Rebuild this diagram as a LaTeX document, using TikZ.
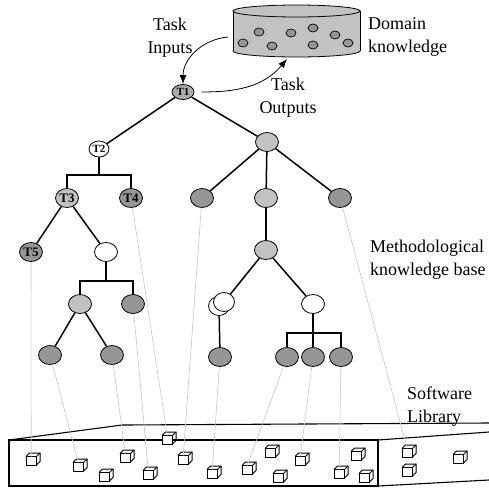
\documentclass[tikz,border=0pt]{standalone}
\usepackage{fontspec}
\setmainfont{Liberation Serif}
\usetikzlibrary{shapes.geometric,arrows.meta}
\definecolor{darknode}{gray}{0.59}
\definecolor{midnode}{gray}{0.68}
\definecolor{lightnode}{gray}{0.76}
\definecolor{leader}{gray}{0.78}
\begin{document}
\begin{tikzpicture}[x=1pt,y=-1pt,
  tnode/.style={ellipse, draw, line width=0.8pt, minimum width=23pt, minimum height=19pt, inner sep=0pt},
  dark/.style={tnode, fill=darknode},
  light/.style={tnode, fill=lightnode},
  blank/.style={tnode, fill=white},
  tlbl/.style={font=\fontsize{13}{13}\selectfont\bfseries, inner sep=0pt},
  edge/.style={line width=1.5pt},
  bracket/.style={line width=1.8pt},
  ref/.style={leader, line width=0.6pt},
  txt/.style={font=\fontsize{18}{23}\selectfont, inner sep=0pt},
  flow/.style={line width=0.8pt, -{Latex[length=9pt,width=7pt]}},
  libcube/.pic={
    \draw[line width=1pt, fill=white] (-7,-2.5) rectangle (3.5,6);
    \draw[line width=1pt] (-7,-2.5) -- (-3.5,-6) -- (7,-6) -- (7,2.5) -- (3.5,6);
    \draw[line width=1pt] (3.5,-2.5) -- (7,-6);
    \coordinate (-top) at (-1.75,-2.5);
  }]
\useasboundingbox (0,0) rectangle (489,488);

%domain knowledge store
\fill[lightnode] (233,11) rectangle (360,51);
\fill[lightnode] (296.5,51) ellipse[x radius=63.5, y radius=6];
\begin{scope}
\clip (230,51) rectangle (363,60);
\draw[line width=0.8pt] (296.5,51) ellipse[x radius=63.5, y radius=6];
\end{scope}
\draw[line width=0.8pt] (233,11) -- (233,51);
\draw[line width=0.8pt] (360,11) -- (360,51);
\draw[line width=0.8pt, fill=lightnode] (296.5,11) ellipse[x radius=63.5, y radius=6];
\draw[line width=0.7pt, fill=darknode] (259,32) ellipse[x radius=5, y radius=4];
\draw[line width=0.7pt, fill=darknode] (291,33) ellipse[x radius=5, y radius=4];
\draw[line width=0.7pt, fill=darknode] (313,28) ellipse[x radius=5, y radius=4];
\draw[line width=0.7pt, fill=darknode] (335,35) ellipse[x radius=5, y radius=4];
\draw[line width=0.7pt, fill=darknode] (243,43) ellipse[x radius=5, y radius=4];
\draw[line width=0.7pt, fill=darknode] (272,46) ellipse[x radius=5, y radius=4];
\draw[line width=0.7pt, fill=darknode] (313,45) ellipse[x radius=5, y radius=4];
\draw[line width=0.7pt, fill=darknode] (348,43) ellipse[x radius=5, y radius=4];
\coordinate (dkin) at (228,37);
\coordinate (dkout) at (287,59);

\node[txt, align=center] (inputs) at (170,38) {Task\\Inputs};
\node[txt, anchor=west, align=left] (domain) at (368,37) {Domain\\knowledge};
\node[txt, align=center] (outputs) at (288,98) {Task\\Outputs};
\node[txt, anchor=west, align=left] (method) at (370,260) {Methodological\\knowledge base};
\node[txt, anchor=west, align=left] (softlib) at (407,407) {Software\\Library};

%task tree
\node[tnode, fill=midnode, minimum width=22pt, minimum height=15pt, label={[tlbl, font=\fontsize{11}{11}\selectfont\bfseries]center:T1}] (t1) at (183,92) {};
\node[blank, minimum width=20pt, minimum height=16pt, label={[tlbl, font=\fontsize{11}{11}\selectfont\bfseries]center:T2}] (t2) at (99,149) {};
\node[light] (n1) at (267,142) {};
\node[light, label={[tlbl]center:T3}] (t3) at (67,198) {};
\node[dark, label={[tlbl]center:T4}] (t4) at (131,198) {};
\node[dark] (n2) at (202,198) {};
\node[light] (n3) at (266,198) {};
\node[dark] (n4) at (340,198) {};
\node[dark, label={[tlbl]center:T5}] (t5) at (31,252) {};
\node[blank] (n5) at (106,252) {};
\node[light] (n6) at (266,250) {};
\node[light] (n7) at (80,304) {};
\node[dark] (n8) at (133,304) {};
\node[blank, minimum width=21pt] (n9b) at (219,306) {};
\node[blank, minimum width=21pt] (n9) at (224,302) {};
\node[blank] (n10) at (313,304) {};
\node[dark] (n11) at (50,355) {};
\node[dark] (n12) at (112,355) {};
\node[dark] (n13) at (220,357) {};
\node[dark] (n14) at (287,357) {};
\node[dark] (n15) at (313,357) {};
\node[dark] (n16) at (341,357) {};

\draw[flow] (dkin) to[out=185, in=90] (t1.north);
\draw[flow, shorten <=7pt] (t1.east) to[out=0, in=230] (dkout);

\draw[edge] (t1) -- (t2);
\draw[edge] (t1) -- (n1);
\draw[edge] (n1) -- (n2);
\draw[edge] (n1) -- (n3);
\draw[edge] (n1) -- (n4);
\draw[edge] (t3) -- (t5);
\draw[edge] (t3) -- (n5);
\draw[edge] (n3) -- (n6);
\draw[edge] (n6) -- (n9);
\draw[edge] (n6) -- (n10);
\draw[edge] (n7) -- (n11);
\draw[edge] (n7) -- (n12);
\draw[edge] (n9b) -- (n13);
%brackets
\draw[bracket] (t2) -- (t2.south |- 0,175);
\draw[bracket] (t3.north) -- (t3.north |- 0,175) -- (t4.north |- 0,175) -- (t4.north);
\draw[bracket] (n5) -- (n5.south |- 0,281);
\draw[bracket] (n7.north) -- (n7.north |- 0,281) -- (n8.north |- 0,281) -- (n8.north);
\draw[bracket] (n10) -- (n15);
\draw[bracket] (n14.north) -- (n14.north |- 0,333) -- (n16.north |- 0,333) -- (n16.north);

%software library
\draw[line width=1.1pt] (9,440) rectangle (378,486);
\draw[line width=1.1pt] (9,440) -- (122,425) -- (489,423);
\draw[line width=1.1pt] (378,440) -- (489,432);
\draw[line width=1.1pt] (378,486) -- (489,480);

\pic (c1) at (33,459) {libcube};
\pic (c2) at (80,465) {libcube};
\pic (c3) at (106,475) {libcube};
\pic (c4) at (127,456) {libcube};
\pic (c5) at (150,473) {libcube};
\pic (c6) at (169,438) {libcube};
\pic (c7) at (185,458) {libcube};
\pic (c8) at (214,472) {libcube};
\pic (c9) at (249,468) {libcube};
\pic (c10) at (272,451) {libcube};
\pic (c11) at (280,476) {libcube};
\pic (c12) at (302,459) {libcube};
\pic (c13) at (341,472) {libcube};
\pic (c14) at (358,454) {libcube};
\pic (c15) at (366,476) {libcube};
\pic (c16) at (409,451) {libcube};
\pic (c17) at (409,470) {libcube};
\pic (c18) at (460,457) {libcube};

%links to library components
\draw[ref] (t5) -- (c1-top);
\draw[ref] (n11) -- (c2-top);
\draw[ref] (n12) -- (c4-top);
\draw[ref] (n8) -- (c5-top);
\draw[ref] (t4) -- (c6-top);
\draw[ref] (n2) -- (c7-top);
\draw[ref] (n13) -- (c8-top);
\draw[ref] (n14) -- (c9-top);
\draw[ref] (n15) -- (c12-top);
\draw[ref] (n16) -- (c13-top);
\draw[ref] (n4) -- (c16-top);
\end{tikzpicture}
\end{document}
